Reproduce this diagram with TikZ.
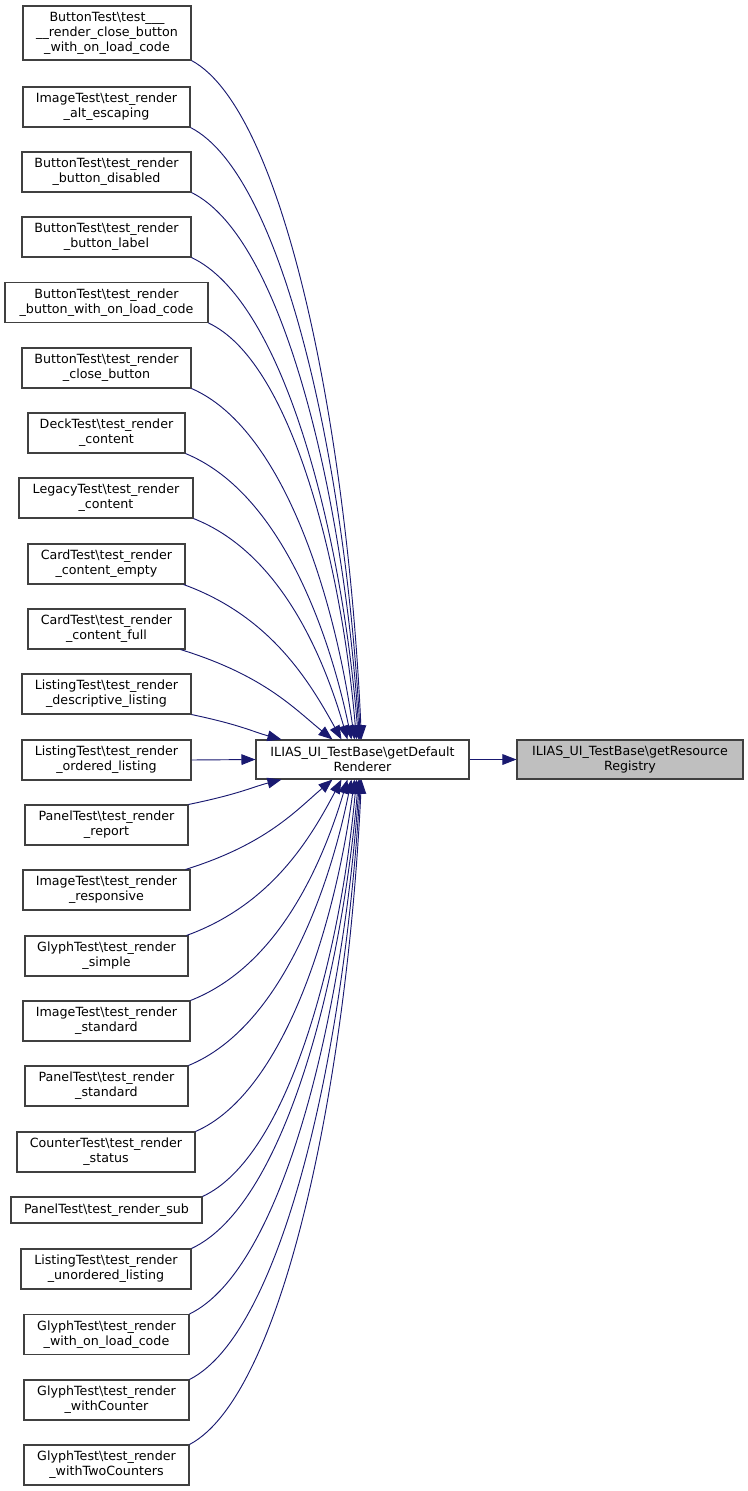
\documentclass[tikz,border=0pt]{standalone}
\usepackage{fontspec}
\setmainfont{DejaVu Sans}
\usetikzlibrary{calc,arrows.meta}
\definecolor{edgeblue}{HTML}{191970}
\definecolor{boxline}{HTML}{404040}
\definecolor{targetfill}{HTML}{BFBFBF}
\newcommand\pxu{0.75pt}
\newcommand\calledge[2]{%
  \draw[edge] let \p1=(#1), \p2=(#2),
      \n1={\x2-\x1}, \n2={\y2-\y1}, \n3={(\n1)/((\n1)+abs(\n2))}
    in (\p1) .. controls ({\x1+0.55*(\n1)*1pt},{\y1+(0.05+0.6*(\n3)*(\n3))*(\n2)*1pt})
       and ({\x2-0.4*(\n3)*(\n1)*1pt},{\y2-0.5*(1-0.5*(\n3))*(\n2)*1pt}) .. (\p2);}
\begin{document}
\begin{tikzpicture}[x=0.75pt,y=-0.75pt,
  box/.style={draw=boxline, line width=0.8pt, fill=white, align=center, inner sep=0pt,
    minimum height=40*\pxu, font=\fontsize{9.5}{11.25}\selectfont},
  edge/.style={draw=edgeblue, line width=0.7pt, -{Triangle[length=10.5pt,width=8pt]}}]
\useasboundingbox (0,0) rectangle (748,1491);
\node[box, minimum width=168*\pxu, minimum height=54*\pxu] (b1) at (107,33) {ButtonTest\textbackslash test\_\_\_\\\_\_render\_close\_button\\\_with\_on\_load\_code};
\node[box, minimum width=167*\pxu] (b2) at (106.5,107) {ImageTest\textbackslash test\_render\\\_alt\_escaping};
\node[box, minimum width=169*\pxu] (b3) at (106.5,172) {ButtonTest\textbackslash test\_render\\\_button\_disabled};
\node[box, minimum width=169*\pxu] (b4) at (106.5,237) {ButtonTest\textbackslash test\_render\\\_button\_label};
\node[box, minimum width=203*\pxu] (b5) at (106.5,302.5) {ButtonTest\textbackslash test\_render\\\_button\_with\_on\_load\_code};
\node[box, minimum width=169*\pxu] (b6) at (106.5,368) {ButtonTest\textbackslash test\_render\\\_close\_button};
\node[box, minimum width=157*\pxu] (b7) at (106.5,433) {DeckTest\textbackslash test\_render\\\_content};
\node[box, minimum width=174*\pxu] (b8) at (106,498) {LegacyTest\textbackslash test\_render\\\_content};
\node[box, minimum width=157*\pxu] (b9) at (106.5,564) {CardTest\textbackslash test\_render\\\_content\_empty};
\node[box, minimum width=157*\pxu] (b10) at (106.5,629) {CardTest\textbackslash test\_render\\\_content\_full};
\node[box, minimum width=169*\pxu] (b11) at (106.5,694) {ListingTest\textbackslash test\_render\\\_descriptive\_listing};
\node[box, minimum width=169*\pxu] (b12) at (106.5,760) {ListingTest\textbackslash test\_render\\\_ordered\_listing};
\node[box, minimum width=163*\pxu] (b13) at (106.5,825) {PanelTest\textbackslash test\_render\\\_report};
\node[box, minimum width=167*\pxu] (b14) at (106.5,890) {ImageTest\textbackslash test\_render\\\_responsive};
\node[box, minimum width=163*\pxu] (b15) at (106.5,956) {GlyphTest\textbackslash test\_render\\\_simple};
\node[box, minimum width=167*\pxu] (b16) at (106.5,1021) {ImageTest\textbackslash test\_render\\\_standard};
\node[box, minimum width=163*\pxu] (b17) at (106.5,1086) {PanelTest\textbackslash test\_render\\\_standard};
\node[box, minimum width=178*\pxu] (b18) at (106,1152) {CounterTest\textbackslash test\_render\\\_status};
\node[box, minimum width=191*\pxu, minimum height=26*\pxu] (b19) at (106.5,1210) {PanelTest\textbackslash test\_render\_sub};
\node[box, minimum width=170*\pxu] (b20) at (106,1269) {ListingTest\textbackslash test\_render\\\_unordered\_listing};
\node[box, minimum width=165*\pxu] (b21) at (106.5,1334.5) {GlyphTest\textbackslash test\_render\\\_with\_on\_load\_code};
\node[box, minimum width=165*\pxu] (b22) at (106.5,1400) {GlyphTest\textbackslash test\_render\\\_withCounter};
\node[box, minimum width=165*\pxu] (b23) at (106.5,1465) {GlyphTest\textbackslash test\_render\\\_withTwoCounters};
\node[box, minimum width=213*\pxu, minimum height=39*\pxu] (main) at (362.5,759.5) {ILIAS\_UI\_TestBase\textbackslash getDefault\\Renderer};
\node[box, fill=targetfill, minimum width=226*\pxu, minimum height=39*\pxu] (target) at (630,759.5) {ILIAS\_UI\_TestBase\textbackslash getResource\\Registry};
% edges from upper callers
\calledge{b1.south east}{$(main.north west)+(106,0)$}
\calledge{b2.south east}{$(main.north west)+(105,0)$}
\calledge{b3.south east}{$(main.north west)+(104,0)$}
\calledge{b4.south east}{$(main.north west)+(103,0)$}
\calledge{b5.south east}{$(main.north west)+(101,0)$}
\calledge{b6.south east}{$(main.north west)+(99,0)$}
\calledge{b7.south east}{$(main.north west)+(96,0)$}
\calledge{b8.south east}{$(main.north west)+(92,0)$}
\calledge{$(b9.south east)+(-2,0)$}{$(main.north west)+(86,0)$}
\calledge{$(b10.south east)+(-5,0)$}{$(main.north west)+(77,0)$}
\calledge{b11.south east}{$(main.north west)+(26,0)$}
\draw[edge] (b12.east) -- (main.west);
% edges from lower callers
\calledge{b13.north east}{$(main.south west)+(26,0)$}
\calledge{$(b14.north east)+(-5,0)$}{$(main.south west)+(77,0)$}
\calledge{$(b15.north east)+(-2,0)$}{$(main.south west)+(86,0)$}
\calledge{b16.north east}{$(main.south west)+(92,0)$}
\calledge{b17.north east}{$(main.south west)+(96,0)$}
\calledge{b18.north east}{$(main.south west)+(99,0)$}
\calledge{b19.north east}{$(main.south west)+(101,0)$}
\calledge{b20.north east}{$(main.south west)+(103,0)$}
\calledge{b21.north east}{$(main.south west)+(104,0)$}
\calledge{b22.north east}{$(main.south west)+(105,0)$}
\calledge{b23.north east}{$(main.south west)+(106,0)$}
\draw[edge] (main.east) -- (target.west);
\end{tikzpicture}
\end{document}
